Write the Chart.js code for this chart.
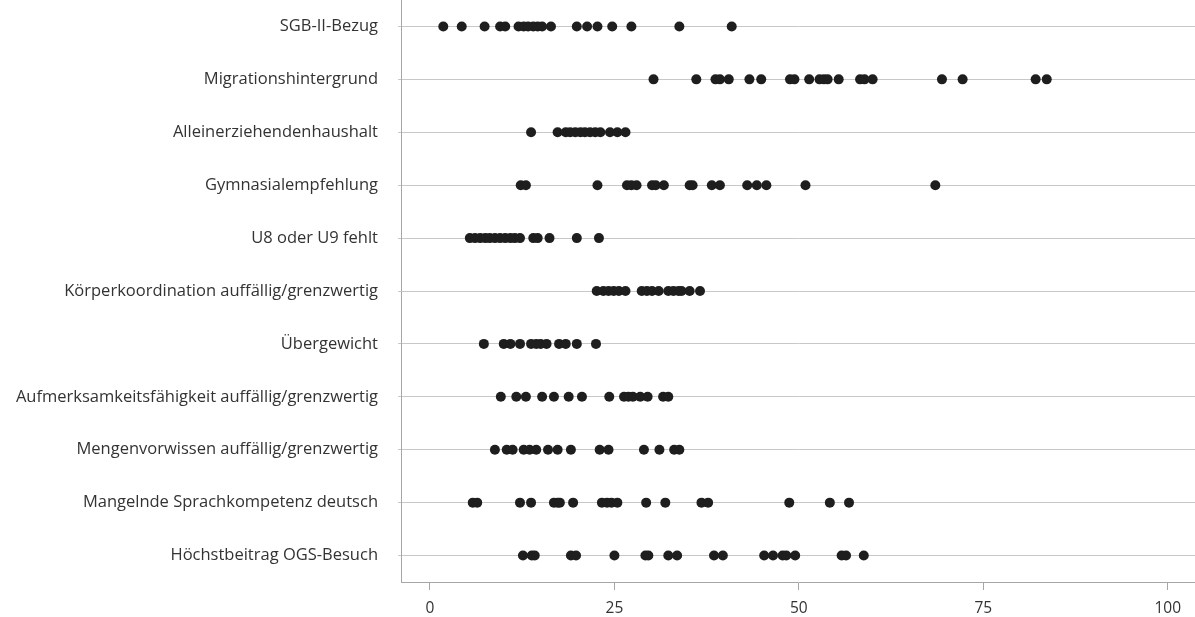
<!DOCTYPE html>
<html>
<head>
<meta charset="utf-8">
<script src="https://cdn.jsdelivr.net/npm/chart.js@4.4.1/dist/chart.umd.min.js"></script>
<style>
  body { margin: 0; background: #ffffff; }
  #wrap { width: 1195px; height: 617px; position: relative; }
</style>
</head>
<body>
<div id="wrap"><canvas id="dot-chart"></canvas></div>
<script>
// Categories, top to bottom
const categories = [
  'SGB-II-Bezug',
  'Migrationshintergrund',
  'Alleinerziehendenhaushalt',
  'Gymnasialempfehlung',
  'U8 oder U9 fehlt',
  'Körperkoordination auffällig/grenzwertig',
  'Übergewicht',
  'Aufmerksamkeitsfähigkeit auffällig/grenzwertig',
  'Mengenvorwissen auffällig/grenzwertig',
  'Mangelnde Sprachkompetenz deutsch',
  'Höchstbeitrag OGS-Besuch'
];

// Percent values per category (one dot each)
const sgbValues = [1.8, 4.3, 7.4, 9.5, 10.2, 12.0, 12.7, 13.3, 14.0, 14.6, 15.2, 16.4, 19.9, 21.3, 22.7, 24.7, 27.3, 33.8, 40.9];
const migrationValues = [30.3, 36.1, 38.7, 39.3, 40.5, 43.3, 44.9, 48.8, 49.4, 51.4, 52.8, 53.4, 53.9, 55.4, 58.3, 58.9, 60.0, 69.4, 72.2, 82.1, 83.6];
const alleinValues = [13.7, 17.3, 18.4, 19.0, 19.7, 20.4, 21.0, 21.7, 22.4, 23.1, 24.4, 25.4, 26.5];
const gymnasialValues = [12.3, 13.0, 22.7, 26.7, 27.3, 28.0, 30.1, 30.6, 31.7, 35.2, 35.6, 38.2, 39.3, 43.0, 44.3, 45.6, 50.9, 68.5];
const u8u9Values = [5.4, 6.1, 6.8, 7.5, 8.1, 8.8, 9.5, 10.2, 10.9, 11.5, 12.2, 14.0, 14.6, 16.2, 19.9, 22.9];
const koerperValues = [22.6, 23.5, 24.2, 24.9, 25.6, 26.5, 28.7, 29.4, 30.1, 31.0, 32.3, 33.0, 33.7, 34.1, 35.2, 36.6];
const uebergewichtValues = [7.3, 10.0, 10.9, 12.2, 13.7, 14.4, 15.0, 15.8, 17.5, 18.4, 19.9, 22.5];
const aufmerksamValues = [9.6, 11.7, 13.0, 15.2, 16.8, 18.8, 20.6, 24.3, 26.3, 26.9, 27.5, 28.5, 29.5, 31.6, 32.3];
const mengenValues = [8.8, 10.4, 11.2, 12.7, 13.5, 14.4, 16.0, 17.3, 19.1, 23.0, 24.2, 29.0, 31.1, 33.1, 33.8];
const spracheValues = [5.8, 6.4, 12.2, 13.7, 16.8, 17.3, 17.6, 19.4, 23.3, 24.0, 24.6, 25.4, 29.3, 31.9, 36.8, 37.7, 48.7, 54.2, 56.8];
const ogsValues = [12.6, 13.8, 14.2, 19.1, 19.8, 25.0, 29.2, 29.6, 32.3, 33.5, 38.5, 39.7, 45.3, 46.5, 47.8, 48.3, 49.5, 55.8, 56.4, 58.8];

const xTickValues = [0, 25, 50, 75, 100];

const allValues = [sgbValues, migrationValues, alleinValues, gymnasialValues, u8u9Values,
  koerperValues, uebergewichtValues, aufmerksamValues, mengenValues, spracheValues, ogsValues];

// Build the scatter points: x = percent, y = row index
const points = [];
allValues.forEach((row, i) => {
  row.forEach((v) => points.push({ x: v, y: i }));
});

const ctx = document.getElementById('dot-chart').getContext('2d');
new Chart(ctx, {
  type: 'scatter',
  data: {
    datasets: [{
      data: points,
      backgroundColor: '#1e1e1e',
      borderWidth: 0,
      pointRadius: 5,
      pointHoverRadius: 5
    }]
  },
  options: {
    responsive: true,
    maintainAspectRatio: false,
    animation: false,
    layout: { padding: 0, autoPadding: false },
    plugins: {
      legend: { display: false },
      tooltip: { enabled: false }
    },
    scales: {
      x: {
        type: 'linear',
        min: -3.93,
        max: 103.7,
        afterBuildTicks: (scale) => {
          scale.ticks = xTickValues.map((v) => ({ value: v }));
        },
        afterFit: (scale) => {
          scale.height = 35;
          scale.paddingLeft = 0;
          scale.paddingRight = 0;
        },
        grid: {
          drawOnChartArea: false,
          drawTicks: true,
          tickLength: 8,
          color: '#a6a6a6'
        },
        border: { color: '#a6a6a6', width: 1 },
        ticks: {
          padding: 9,
          color: '#333333',
          font: { family: 'Open Sans', size: 15.5 }
        }
      },
      y: {
        type: 'linear',
        min: -0.5,
        max: 10.5,
        reverse: true,
        afterBuildTicks: (scale) => {
          scale.ticks = categories.map((c, i) => ({ value: i }));
        },
        afterFit: (scale) => {
          scale.width = 401;
          scale.paddingTop = 0;
          scale.paddingBottom = 0;
        },
        grid: {
          color: '#c8c8c8',
          lineWidth: 1,
          drawTicks: true,
          tickLength: 3
        },
        border: { color: '#a6a6a6', width: 1 },
        ticks: {
          padding: 20,
          color: '#333333',
          font: { family: 'Open Sans', size: 16.5 },
          callback: (value) => categories[value]
        }
      }
    }
  }
});
</script>
</body>
</html>
